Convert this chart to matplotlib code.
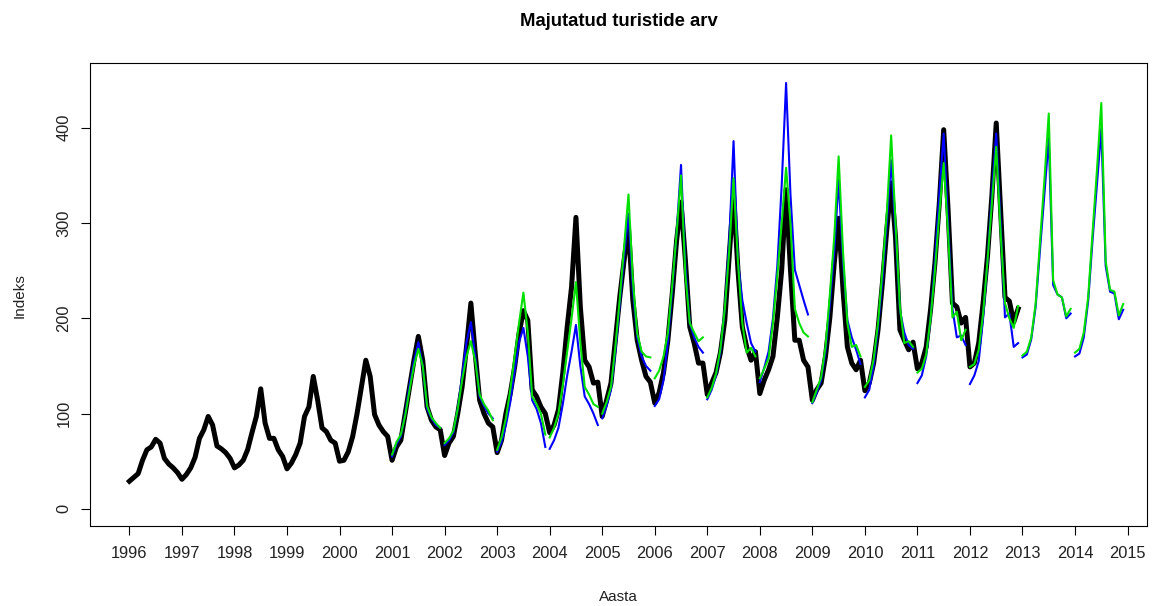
import numpy as np
import matplotlib
matplotlib.use("Agg")
import matplotlib.pyplot as plt

plt.rcParams['font.family'] = ['Liberation Sans', 'DejaVu Sans']

# Actual monthly index values (Jan..Dec), 1996-2012
actual_start = 1996
actual = [
    [29, 33, 37, 51, 62, 65, 73, 69, 53, 47, 43, 38],        # 1996
    [31, 36, 43, 54, 74, 83, 97, 88, 66, 63, 59, 53],        # 1997
    [43, 46, 51, 62, 80, 97, 126, 90, 74, 74, 62, 55],       # 1998
    [42, 48, 57, 69, 97, 107, 139, 114, 85, 81, 72, 69],     # 1999
    [50, 51, 60, 76, 100, 128, 156, 139, 99, 88, 81, 76],    # 2000
    [51, 65, 72, 100, 128, 156, 181, 156, 107, 93, 86, 83],  # 2001
    [56, 69, 76, 100, 128, 170, 216, 163, 114, 100, 90, 86], # 2002
    [59, 72, 100, 121, 149, 184, 208, 198, 125, 118, 107, 100],  # 2003
    [80, 88, 104, 143, 191, 233, 306, 212, 156, 149, 132, 133],  # 2004
    [97, 114, 132, 177, 222, 261, 295, 219, 177, 156, 139, 133], # 2005
    [111, 122, 143, 177, 226, 282, 322, 261, 191, 174, 153, 153],# 2006
    [120, 132, 143, 164, 198, 265, 330, 251, 191, 170, 156, 165],# 2007
    [121, 135, 146, 160, 201, 251, 335, 251, 177, 177, 156, 149],# 2008
    [114, 125, 132, 160, 201, 258, 305, 230, 170, 153, 146, 156],# 2009
    [124, 132, 153, 188, 237, 293, 342, 285, 188, 177, 167, 175],# 2010
    [147, 153, 170, 209, 258, 321, 398, 314, 216, 212, 195, 201],# 2011
    [149, 153, 174, 216, 265, 328, 405, 314, 222, 218, 196, 210],# 2012
]

# One-year-ahead forecasts (Jan..Dec) for 2001-2014
forecast_years = list(range(2001, 2015))
blue_forecast = [
    [55, 68, 76, 100, 130, 155, 175, 150, 105, 95, 88, 85],       # 2001
    [67, 72, 80, 105, 140, 175, 196, 160, 118, 108, 100, 95],     # 2002
    [60, 70, 88, 112, 145, 175, 190, 160, 114, 105, 90, 65],      # 2003
    [63, 72, 85, 110, 140, 165, 193, 150, 118, 110, 100, 88],     # 2004
    [95, 108, 125, 165, 215, 265, 310, 230, 180, 160, 150, 145],  # 2005
    [108, 115, 135, 175, 230, 290, 361, 255, 195, 180, 170, 164], # 2006
    [115, 125, 140, 165, 210, 280, 386, 260, 219, 195, 174, 165], # 2007
    [133, 148, 165, 200, 255, 340, 447, 330, 251, 235, 219, 204], # 2008
    [111, 122, 135, 165, 215, 270, 345, 260, 198, 180, 167, 152], # 2009
    [117, 125, 150, 190, 240, 300, 366, 290, 209, 185, 172, 168], # 2010
    [132, 140, 160, 200, 260, 330, 394, 300, 210, 180, 182, 172], # 2011
    [131, 140, 155, 200, 260, 330, 394, 300, 201, 205, 170, 174], # 2012
    [159, 162, 178, 212, 272, 330, 389, 235, 225, 222, 200, 205], # 2013
    [160, 163, 180, 218, 282, 340, 399, 255, 228, 226, 199, 209], # 2014
]
green_forecast = [
    [57, 70, 78, 98, 125, 150, 168, 150, 108, 96, 90, 85],        # 2001
    [69, 74, 82, 105, 135, 160, 176, 155, 120, 110, 103, 93],     # 2002
    [62, 75, 95, 125, 160, 195, 227, 185, 118, 110, 100, 78],     # 2003
    [75, 85, 100, 130, 165, 200, 238, 175, 128, 120, 110, 107],   # 2004
    [100, 112, 128, 170, 220, 275, 330, 240, 184, 165, 160, 159], # 2005
    [137, 145, 160, 185, 235, 290, 350, 245, 195, 185, 176, 180], # 2006
    [117, 127, 142, 168, 210, 270, 347, 260, 195, 164, 169, 160], # 2007
    [137, 147, 158, 195, 245, 300, 358, 300, 210, 195, 185, 181], # 2008
    [112, 125, 138, 170, 225, 285, 370, 270, 195, 170, 172, 160], # 2009
    [128, 135, 157, 195, 250, 310, 392, 300, 212, 174, 176, 170], # 2010
    [143, 147, 162, 200, 250, 310, 363, 290, 201, 207, 177, 188], # 2011
    [149, 152, 167, 205, 260, 320, 380, 290, 216, 200, 190, 213], # 2012
    [161, 165, 180, 215, 280, 345, 415, 240, 225, 222, 202, 210], # 2013
    [164, 168, 185, 222, 290, 355, 426, 260, 230, 228, 203, 215], # 2014
]

title = "Majutatud turistide arv"
xlabel = "Aasta"
ylabel = "Indeks"
year_ticks = list(range(1996, 2016))
value_ticks = [0, 100, 200, 300, 400]

months = np.arange(12) / 12.0

fig = plt.figure(figsize=(11.58, 6.06), dpi=100)
ax = fig.add_axes([90/1158, 1 - 526/606, (1147-90)/1158, (526-63)/606])

act_x = np.concatenate([actual_start + i + months for i in range(len(actual))])
act_y = np.concatenate([np.array(r, float) for r in actual])
ax.plot(act_x, act_y, color='black', lw=3.6, solid_joinstyle='round', zorder=2)

for yr, row in zip(forecast_years, blue_forecast):
    ax.plot(yr + months, row, color='#0000FF', lw=1.5, zorder=3)
for yr, row in zip(forecast_years, green_forecast):
    ax.plot(yr + months, row, color='#00E000', lw=1.5, zorder=4)

ax.set_xlim(1995.25, 2015.37)
ax.set_ylim(-18, 468)
ax.set_xticks(year_ticks)
ax.set_xticklabels([str(y) for y in year_ticks])
ax.set_yticks(value_ticks)
ax.set_yticklabels([str(v) for v in value_ticks], rotation=90, va='center')
ax.tick_params(axis='both', direction='out', length=6.5, width=0.8, labelsize=11.8,
               colors='black', labelcolor='#222222')
ax.tick_params(axis='x', pad=8)
ax.tick_params(axis='y', pad=7)
for s in ax.spines.values():
    s.set_linewidth(0.8)
    s.set_color('black')

fig.text(618.5/1158, 1 - 22/606, title, ha='center', va='center', fontsize=13.3, fontweight='bold')
fig.text(618.5/1158, 1 - 597/606, xlabel, ha='center', va='center', fontsize=11, color='#222222')
fig.text(20/1158, 1 - 296/606, ylabel, ha='center', va='center', fontsize=11, rotation=90, color='#222222')

fig.savefig('out.png', dpi=100)
